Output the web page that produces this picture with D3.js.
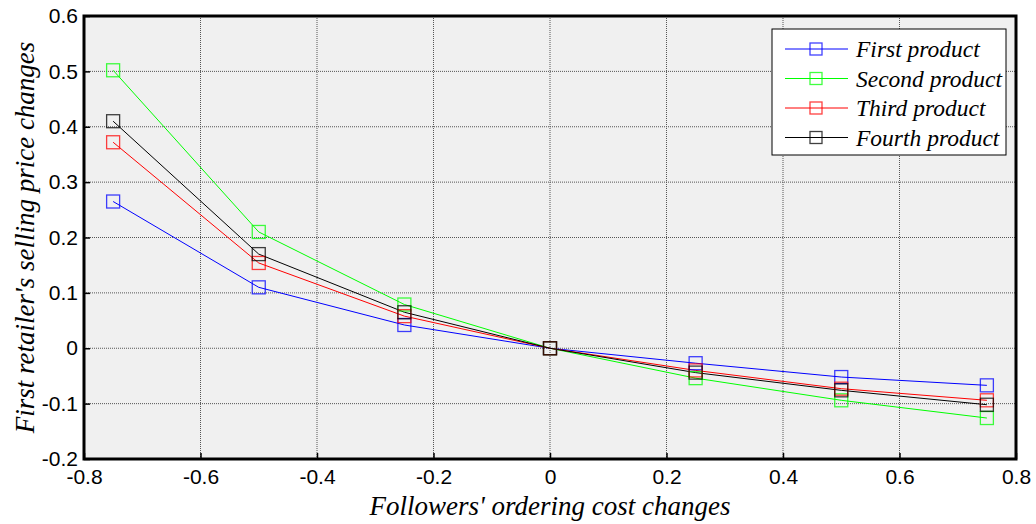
<!DOCTYPE html>
<html>
<head>
<meta charset="utf-8">
<script src="https://cdn.jsdelivr.net/npm/d3@7"></script>
<style>
  body { margin: 0; background: #fff; }
  .axis-title { font-family: "Liberation Serif", "Times New Roman", serif; font-style: italic; font-size: 27px; fill: #000; }
  .legend text { font-family: "Liberation Serif", "Times New Roman", serif; font-style: italic; font-size: 23.5px; fill: #000; }
</style>
</head>
<body>
<svg id="chart" width="1036" height="524"></svg>
<script>
const width = 1036;
const height = 524;

/* DATA */
const costChanges = [-0.75, -0.5, -0.25, 0, 0.25, 0.5, 0.75];
const seriesNames = ["First product", "Second product", "Third product", "Fourth product"];
const seriesColors = ["#0000ff", "#00ff00", "#ff0000", "#000000"];
const firstProduct = [0.265, 0.110, 0.042, 0, -0.027, -0.052, -0.067];
const secondProduct = [0.502, 0.210, 0.079, 0, -0.054, -0.094, -0.126];
const thirdProduct = [0.372, 0.154, 0.058, 0, -0.040, -0.073, -0.094];
const fourthProduct = [0.410, 0.170, 0.065, 0, -0.044, -0.076, -0.102];
const xTicks = [-0.8, -0.6, -0.4, -0.2, 0, 0.2, 0.4, 0.6, 0.8];
const yTicks = [-0.2, -0.1, 0, 0.1, 0.2, 0.3, 0.4, 0.5, 0.6];

const margin = { top: 16, bottom: 65, left: 84, right: 20 };
const plotWidth = width - margin.left - margin.right;
const plotHeight = height - margin.top - margin.bottom;

const svg = d3.select("svg#chart");
const plot = svg.append("g").attr("transform", translate(margin.left, margin.top));

const x = d3.scaleLinear().domain([-0.8, 0.8]).range([0, plotWidth]);
const y = d3.scaleLinear().domain([-0.2, 0.6]).range([plotHeight, 0]);

/* BACKGROUND */
plot.append("rect")
  .attr("width", plotWidth)
  .attr("height", plotHeight)
  .attr("fill", "#f0f0f0");

/* GRID */
plot.append("g")
  .selectAll("line")
  .data(xTicks.slice(1, -1))
  .enter()
  .append("line")
  .attr("x1", d => x(d)).attr("x2", d => x(d))
  .attr("y1", 0).attr("y2", plotHeight)
  .attr("stroke", "#555")
  .attr("stroke-width", 1)
  .attr("stroke-dasharray", "1,1");

plot.append("g")
  .selectAll("line")
  .data(yTicks.slice(1, -1))
  .enter()
  .append("line")
  .attr("x1", 0).attr("x2", plotWidth)
  .attr("y1", d => y(d)).attr("y2", d => y(d))
  .attr("stroke", "#555")
  .attr("stroke-width", 1)
  .attr("stroke-dasharray", "1,1");

/* AXES */
const fmt = d => d === 0 ? "0" : d3.format(".1f")(d).replace("−", "-");

const xAxis = d3.axisBottom(x).tickValues(xTicks).tickFormat(fmt).tickSize(-6).tickPadding(10);
const yAxis = d3.axisLeft(y).tickValues(yTicks).tickFormat(fmt).tickSize(-6).tickPadding(6);

const xGroup = plot.append("g").attr("transform", translate(0, plotHeight)).call(xAxis);
const yGroup = plot.append("g").call(yAxis);
plot.selectAll(".domain").remove();
plot.selectAll(".tick line").attr("stroke", "#000").attr("stroke-width", 1.5);
plot.selectAll(".tick text")
  .style("font-family", "'Liberation Sans', Arial, sans-serif")
  .style("font-size", "21px")
  .attr("fill", "#000");

/* SERIES */
const allSeries = [firstProduct, secondProduct, thirdProduct, fourthProduct];
const line = d3.line()
  .x((d, i) => x(costChanges[i]))
  .y(d => y(d));

const markerSize = 13;

allSeries.forEach(function(values, k) {
  plot.append("path")
    .datum(values)
    .attr("d", line)
    .attr("fill", "none")
    .attr("stroke", seriesColors[k])
    .attr("stroke-width", 1);
});

allSeries.forEach(function(values, k) {
  plot.append("g")
    .selectAll("rect")
    .data(values)
    .enter()
    .append("rect")
    .attr("x", (d, i) => x(costChanges[i]) - markerSize / 2)
    .attr("y", d => y(d) - markerSize / 2)
    .attr("width", markerSize)
    .attr("height", markerSize)
    .attr("fill", "none")
    .attr("stroke", seriesColors[k])
    .attr("stroke-opacity", 0.75)
    .attr("stroke-width", 1.3);
});

/* FRAME */
plot.append("rect")
  .attr("width", plotWidth)
  .attr("height", plotHeight)
  .attr("fill", "none")
  .attr("stroke", "#000")
  .attr("stroke-width", 3);

/* LEGEND */
const legend = svg.append("g").attr("class", "legend").attr("transform", translate(772, 29));
legend.append("rect")
  .attr("width", 234)
  .attr("height", 126)
  .attr("fill", "#fff")
  .attr("stroke", "#000")
  .attr("stroke-width", 1);

seriesNames.forEach(function(name, k) {
  const row = legend.append("g").attr("transform", translate(0, 20 + k * 29.5));
  row.append("line")
    .attr("x1", 13).attr("x2", 76)
    .attr("stroke", seriesColors[k])
    .attr("stroke-width", 1);
  row.append("rect")
    .attr("x", 38).attr("y", -6)
    .attr("width", 12).attr("height", 12)
    .attr("fill", "none")
    .attr("stroke", seriesColors[k])
    .attr("stroke-opacity", 0.75)
    .attr("stroke-width", 1.3);
  row.append("text")
    .attr("x", 84)
    .attr("y", 8)
    .text(name);
});

/* TITLES */
svg.append("text")
  .attr("class", "axis-title")
  .attr("x", margin.left + plotWidth / 2)
  .attr("y", 515)
  .attr("text-anchor", "middle")
  .text("Followers' ordering cost changes");

svg.append("text")
  .attr("class", "axis-title")
  .attr("transform", translate(34, margin.top + plotHeight / 2) + " rotate(-90)")
  .attr("text-anchor", "middle")
  .text("First retailer's selling price changes");

function translate(x, y) {
  return 'translate(' + String(x) + ',' + String(y) + ')';
}
</script>
</body>
</html>
